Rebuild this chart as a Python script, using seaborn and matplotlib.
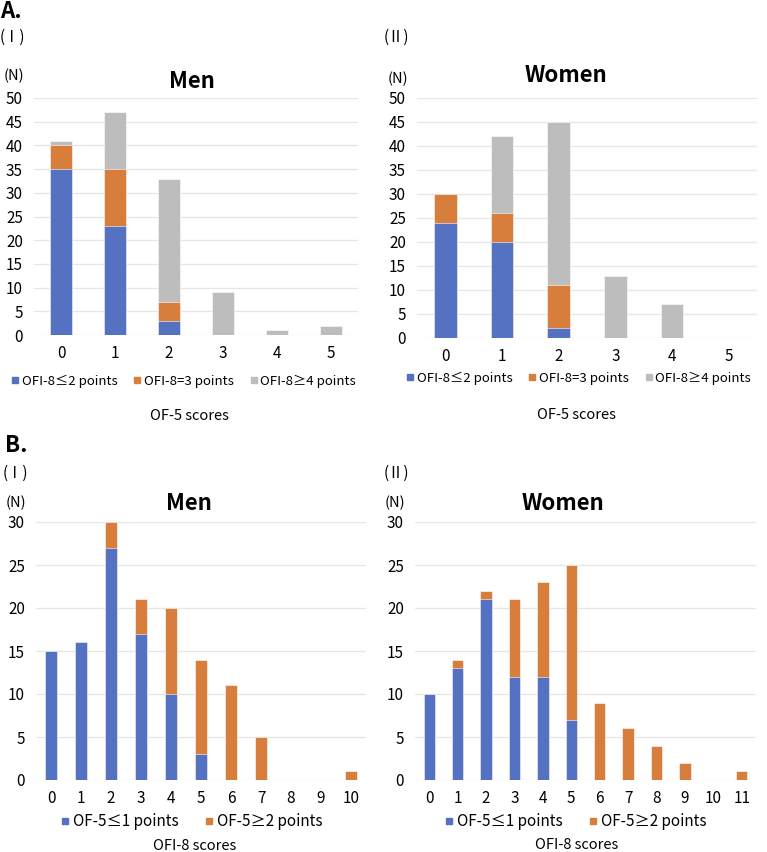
import matplotlib
matplotlib.use("Agg")
import matplotlib.pyplot as plt
from matplotlib.lines import Line2D
import numpy as np
import pandas as pd
import seaborn as sns

# Panel A: OF-5 scores, stacked by OFI-8 group
a_scores = ["0", "1", "2", "3", "4", "5"]
a_men_le2 = [35, 23, 3, 0, 0, 0]
a_men_eq3 = [5, 12, 4, 0, 0, 0]
a_men_ge4 = [1, 12, 26, 9, 1, 2]
a_women_le2 = [24, 20, 2, 0, 0, 0]
a_women_eq3 = [6, 6, 9, 0, 0, 0]
a_women_ge4 = [0, 16, 34, 13, 7, 0]
a_labels = ["OFI-8≤2 points", "OFI-8=3 points", "OFI-8≥4 points"]

# Panel B: OFI-8 scores, stacked by OF-5 group
b_men_scores = [str(i) for i in range(11)]
b_men_le1 = [15, 16, 27, 17, 10, 3, 0, 0, 0, 0, 0]
b_men_ge2 = [0, 0, 3, 4, 10, 11, 11, 5, 0, 0, 1]
b_women_scores = [str(i) for i in range(12)]
b_women_le1 = [10, 13, 21, 12, 12, 7, 0, 0, 0, 0, 0, 0]
b_women_ge2 = [0, 1, 1, 9, 11, 18, 9, 6, 4, 2, 0, 1]
b_labels = ["OF-5≤1 points", "OF-5≥2 points"]

colors = ["#5572C2", "#D77E3C", "#BDBDBD"]

sns.set_theme(style="white")
plt.rcParams["font.family"] = ["Noto Sans CJK JP", "DejaVu Sans"]
plt.rcParams["text.color"] = "black"

fig = plt.figure(figsize=(7.67, 8.52), dpi=100)
W, H = 767, 852


def add_ax(left, top, right, bottom):
    return fig.add_axes([left / W, 1 - bottom / H, (right - left) / W, (bottom - top) / H])


def stacked(ax, cats, series, ymax, step):
    # draw cumulative totals from the top layer down so they stack visually
    cum = np.cumsum(np.array(series), axis=0)
    for i in range(len(series) - 1, -1, -1):
        df = pd.DataFrame({"score": cats, "n": cum[i]})
        sns.barplot(data=df, x="score", y="n", order=cats, color=colors[i],
                    width=0.4, saturation=1, edgecolor="white", linewidth=0.4, ax=ax)
    ax.set_ylim(0, ymax)
    ax.set_xlim(-0.5, len(cats) - 0.5)
    ax.set_yticks(range(0, ymax + 1, step))
    ax.yaxis.grid(True, color="#E6E6E6", linewidth=0.9)
    ax.set_axisbelow(True)
    sns.despine(ax=ax, left=True, bottom=True, top=True, right=True)
    ax.tick_params(axis="both", length=0, labelsize=11, colors="black")
    ax.tick_params(axis="y", pad=8)
    ax.tick_params(axis="x", pad=7)
    ax.set_xlabel("")
    ax.set_ylabel("")


def legend(labels, x, y, fs, gap):
    handles = [Line2D([], [], marker="s", linestyle="none", markersize=5,
                      color=colors[i]) for i in range(len(labels))]
    fig.legend(handles, labels, loc="center", bbox_to_anchor=(x / W, 1 - y / H),
               ncol=len(labels), frameon=False, fontsize=fs, handletextpad=0.1,
               columnspacing=gap, handlelength=0.8)


ax1 = add_ax(34, 98, 358, 335)
stacked(ax1, a_scores, [a_men_le2, a_men_eq3, a_men_ge4], 50, 5)
ax2 = add_ax(417, 98, 757, 338)
stacked(ax2, a_scores, [a_women_le2, a_women_eq3, a_women_ge4], 50, 5)
ax3 = add_ax(36, 522, 366, 780)
stacked(ax3, b_men_scores, [b_men_le1, b_men_ge2], 30, 5)
ax4 = add_ax(415, 522, 756, 780)
stacked(ax4, b_women_scores, [b_women_le1, b_women_ge2], 30, 5)

legend(a_labels, 183, 381, 9.5, 1.1)
legend(a_labels, 578, 378, 9.5, 1.1)
legend(b_labels, 191, 822, 11, 1.6)
legend(b_labels, 575, 822, 11, 1.6)


def txt(x, y, s, **kw):
    fig.text(x / W, 1 - y / H, s, **kw)


txt(0, 12, "A.", fontsize=16, fontweight="bold", ha="left", va="center")
txt(5, 445, "B.", fontsize=16, fontweight="bold", ha="left", va="center")

for x, y, s in [(0, 37, "(Ⅰ)"), (384, 37, "(Ⅱ)"), (3, 473, "(Ⅰ)"), (384, 473, "(Ⅱ)")]:
    txt(x, y, s, fontsize=11, ha="left", va="center")

for x, y in [(4, 76), (388, 79), (6, 503), (385, 503)]:
    txt(x, y, "(N)", fontsize=10.5, ha="left", va="center")

for x, y, s in [(192, 81, "Men"), (566, 76, "Women"), (189, 503, "Men"), (563, 503, "Women")]:
    txt(x, y, s, fontsize=16, fontweight="bold", ha="center", va="center")

txt(189, 416, "OF-5 scores", fontsize=10.5, ha="center", va="center")
txt(576, 415, "OF-5 scores", fontsize=10.5, ha="center", va="center")
txt(195, 846, "OFI-8 scores", fontsize=10.5, ha="center", va="center")
txt(577, 845, "OFI-8 scores", fontsize=10.5, ha="center", va="center")

fig.savefig("out.png", dpi=100)
